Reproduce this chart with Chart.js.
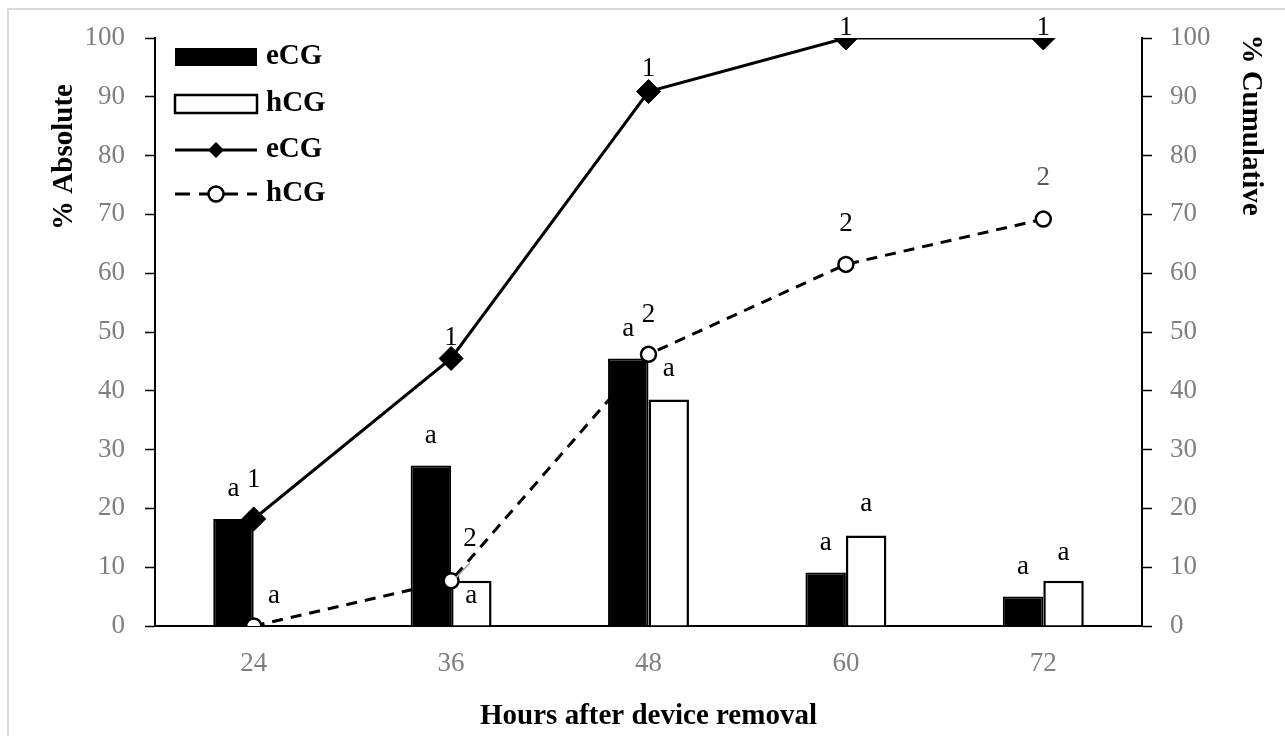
<!DOCTYPE html>
<html lang="en">
<head>
    <meta charset="UTF-8">
    <title>eCG vs hCG - hours after device removal</title>
    <script src="https://cdn.jsdelivr.net/npm/chart.js"></script>
    <style>
        body {
            margin: 0;
            background-color: #ffffff;
        }
        .chart-box {
            width: 1285px;
            height: 736px;
        }
    </style>
</head>
<body>

<div class="chart-box">
    <canvas id="ovulationChart"></canvas>
</div>

<script>
    // Data
    const hours = ['24', '36', '48', '60', '72'];
    const eCGAbsolute = [18.2, 27.3, 45.5, 9.1, 5.0];
    const hCGAbsolute = [0, 7.7, 38.5, 15.4, 7.7];
    const eCGCumulative = [18.2, 45.5, 90.9, 100, 100];
    const hCGCumulative = [0, 7.7, 46.2, 61.5, 69.2];
    const yTicks = [0, 10, 20, 30, 40, 50, 60, 70, 80, 90, 100];

    // Significance letters shown above the marks
    const eCGBarLetters = ['a', 'a', 'a', 'a', 'a'];
    const hCGBarLetters = ['a', 'a', 'a', 'a', 'a'];
    const eCGLineMarks = ['1', '1', '1', '1', '1'];
    const hCGLineMarks = ['', '2', '2', '2', '2'];

    const serif = "'Liberation Serif', 'Times New Roman', serif";
    const tickGrey = '#7f7f7f';

    // Nudges for the letters (pixels from the mark), like the hand placed labels in the original
    const letterNudge = {
        0: { dx: [0, 0, 0, 0, 0], dy: [-30, -30, -30, -30, -30] },
        1: { dx: [0, 0, 0, 0, 0], dy: [-30, 15, -31, -32, -28] },
        2: { dx: [0, 0, 0, 0, 0], dy: [-39, -21, -23, -10, -10] },
        3: { dx: [0, 19, 0, 0, 0], dy: [0, -42, -39, -40, -41] }
    };

    const letterPlugin = {
        id: 'letters',
        afterDatasetsDraw(chart) {
            const ctx = chart.ctx;
            const sets = [eCGBarLetters, hCGBarLetters, eCGLineMarks, hCGLineMarks];
            ctx.save();

            // small grey leader from the 36 h hCG point to its label
            const p = chart.getDatasetMeta(3).data[1];
            ctx.strokeStyle = '#a6a6a6';
            ctx.lineWidth = 1.5;
            ctx.beginPath();
            ctx.moveTo(p.x + 5, p.y - 3);
            ctx.lineTo(p.x + 19, p.y - 18);
            ctx.stroke();

            ctx.font = '27px ' + serif;
            ctx.fillStyle = '#000';
            ctx.textAlign = 'center';
            ctx.textBaseline = 'middle';
            sets.forEach((letters, i) => {
                const meta = chart.getDatasetMeta(i);
                meta.data.forEach((el, j) => {
                    if (!letters[j]) return;
                    ctx.fillStyle = (i === 3 && j === 4) ? '#595959' : '#000';
                    ctx.fillText(letters[j], el.x + letterNudge[i].dx[j], el.y + letterNudge[i].dy[j]);
                });
            });
            ctx.restore();
        }
    };

    const framePlugin = {
        id: 'frame',
        afterDraw(chart) {
            const ctx = chart.ctx;
            ctx.save();
            // light outer frame (only top and left fall inside the picture)
            ctx.strokeStyle = '#d9d9d9';
            ctx.lineWidth = 2;
            ctx.beginPath();
            ctx.moveTo(8, 736);
            ctx.lineTo(8, 9);
            ctx.lineTo(1285, 9);
            ctx.stroke();

            // y axis titles
            ctx.fillStyle = '#000';
            ctx.font = 'bold 29px ' + serif;
            ctx.textAlign = 'center';
            ctx.textBaseline = 'middle';
            ctx.save();
            ctx.translate(65, 157);
            ctx.rotate(-Math.PI / 2);
            ctx.fillText('% Absolute', 0, 0);
            ctx.restore();
            ctx.save();
            ctx.translate(1250, 125);
            ctx.rotate(Math.PI / 2);
            ctx.fillText('% Cumulative', 0, 0);
            ctx.restore();

            // legend
            const lx = 175, lw = 82, tx = 266;
            const rows = [57, 104, 150, 194];
            ctx.textAlign = 'left';
            ctx.fillRect(lx, rows[0] - 9, lw, 18);
            ctx.fillText('eCG', tx, rows[0]);

            ctx.fillStyle = '#fff';
            ctx.fillRect(lx, rows[1] - 9, lw, 18);
            ctx.strokeStyle = '#000';
            ctx.lineWidth = 2.5;
            ctx.strokeRect(lx, rows[1] - 9, lw, 18);
            ctx.fillStyle = '#000';
            ctx.fillText('hCG', tx, rows[1]);

            ctx.lineWidth = 3;
            ctx.beginPath();
            ctx.moveTo(lx, rows[2]);
            ctx.lineTo(lx + lw, rows[2]);
            ctx.stroke();
            ctx.beginPath();
            ctx.moveTo(lx + lw / 2, rows[2] - 8);
            ctx.lineTo(lx + lw / 2 + 8, rows[2]);
            ctx.lineTo(lx + lw / 2, rows[2] + 8);
            ctx.lineTo(lx + lw / 2 - 8, rows[2]);
            ctx.closePath();
            ctx.fill();
            ctx.fillText('eCG', tx, rows[2]);

            ctx.setLineDash([15, 9]);
            ctx.beginPath();
            ctx.moveTo(lx, rows[3]);
            ctx.lineTo(lx + lw, rows[3]);
            ctx.stroke();
            ctx.setLineDash([]);
            ctx.lineWidth = 2.5;
            ctx.beginPath();
            ctx.arc(lx + lw / 2, rows[3], 7.5, 0, Math.PI * 2);
            ctx.fillStyle = '#fff';
            ctx.fill();
            ctx.stroke();
            ctx.fillStyle = '#000';
            ctx.fillText('hCG', tx, rows[3]);
            ctx.restore();
        }
    };

    const yAxisBase = {
        min: 0,
        max: 100,
        afterBuildTicks: axis => { axis.ticks = yTicks.map(v => ({ value: v })); },
        border: { display: true, color: '#000', width: 2 },
        grid: {
            drawOnChartArea: false,
            drawTicks: true,
            tickLength: 10,
            tickColor: '#000',
            tickWidth: 1.5
        }
    };

    const ctx = document.getElementById('ovulationChart').getContext('2d');
    new Chart(ctx, {
        data: {
            labels: hours,
            datasets: [
                {
                    type: 'bar',
                    label: 'eCG',
                    data: eCGAbsolute,
                    yAxisID: 'y',
                    backgroundColor: '#000',
                    borderColor: '#000',
                    borderWidth: 2,
                    categoryPercentage: 0.41,
                    barPercentage: 1,
                    order: 2
                },
                {
                    type: 'bar',
                    label: 'hCG',
                    data: hCGAbsolute,
                    yAxisID: 'y',
                    backgroundColor: '#fff',
                    borderColor: '#000',
                    borderWidth: 2.5,
                    categoryPercentage: 0.41,
                    barPercentage: 1,
                    order: 2
                },
                {
                    type: 'line',
                    label: 'eCG',
                    data: eCGCumulative,
                    yAxisID: 'y1',
                    borderColor: '#000',
                    borderWidth: 3,
                    backgroundColor: '#000',
                    pointStyle: 'rectRot',
                    pointRadius: 12,
                    pointBorderWidth: 1,
                    tension: 0,
                    order: 1
                },
                {
                    type: 'line',
                    label: 'hCG',
                    data: hCGCumulative,
                    yAxisID: 'y1',
                    borderColor: '#000',
                    borderWidth: 3,
                    borderDash: [11, 8],
                    pointStyle: 'circle',
                    pointRadius: 7.5,
                    pointBackgroundColor: '#fff',
                    pointBorderColor: '#000',
                    pointBorderWidth: 2.5,
                    tension: 0,
                    order: 0
                }
            ]
        },
        options: {
            responsive: true,
            maintainAspectRatio: false,
            animation: false,
            layout: { padding: { top: 38, left: 0, right: 0, bottom: 0 } },
            plugins: {
                legend: { display: false },
                tooltip: { enabled: false }
            },
            scales: {
                x: {
                    afterFit: axis => { axis.height = 110; },
                    border: { display: true, color: '#000', width: 2 },
                    grid: { display: false, drawTicks: false },
                    ticks: {
                        color: tickGrey,
                        font: { family: serif, size: 27 },
                        padding: 22
                    },
                    title: {
                        display: true,
                        text: 'Hours after device removal',
                        color: '#000',
                        font: { family: serif, size: 29, weight: 'bold' },
                        padding: { top: 0, bottom: 2 }
                    }
                },
                y: Object.assign({}, yAxisBase, {
                    position: 'left',
                    afterFit: axis => { axis.width = 155; },
                    ticks: {
                        color: tickGrey,
                        font: { family: serif, size: 27 },
                        padding: 20
                    }
                }),
                y1: Object.assign({}, yAxisBase, {
                    position: 'right',
                    afterFit: axis => { axis.width = 143; },
                    ticks: {
                        color: tickGrey,
                        font: { family: serif, size: 27 },
                        padding: 18
                    }
                })
            }
        },
        plugins: [letterPlugin, framePlugin]
    });
</script>

</body>
</html>
